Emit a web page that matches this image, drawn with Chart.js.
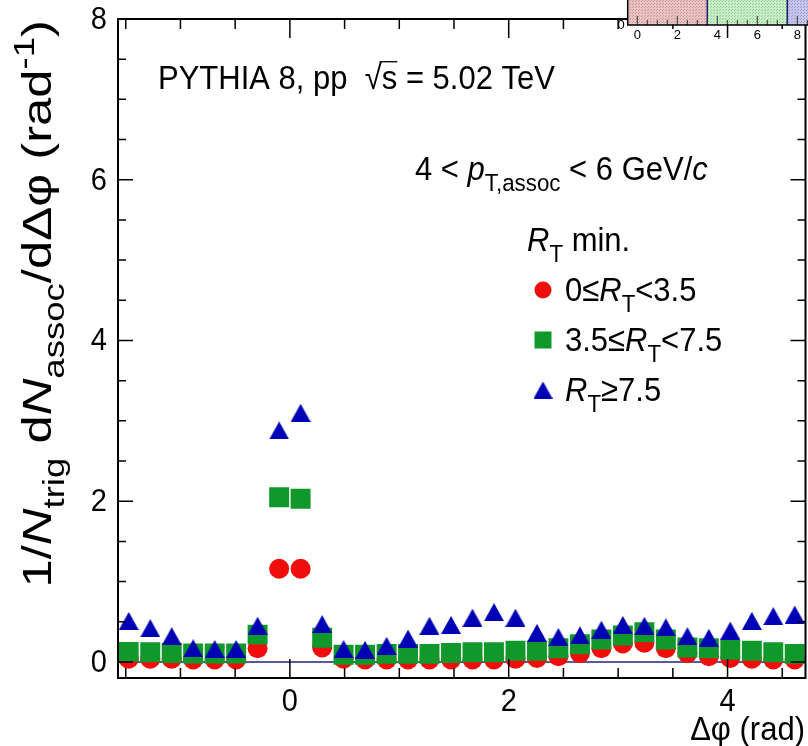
<!DOCTYPE html>
<html><head><meta charset="utf-8">
<script src="https://cdn.jsdelivr.net/npm/chart.js@4/dist/chart.umd.min.js"></script>
<style>
html,body{margin:0;padding:0;background:#fff;}
#wrap{position:relative;width:808px;height:746px;overflow:hidden;background:#fff;}
#main{position:absolute;left:0;top:0;}
#inset{position:absolute;left:600px;top:0;}
</style></head><body>
<div id="wrap"><canvas id="main" width="808" height="746"></canvas><canvas id="inset" width="208" height="44"></canvas></div>
<script>
// ---------- data ----------
const dphi = [-1.473,-1.276,-1.080,-0.884,-0.687,-0.491,-0.295,-0.098,0.098,0.295,0.491,0.687,0.884,1.080,1.276,1.473,
              1.669,1.865,2.062,2.258,2.454,2.651,2.847,3.043,3.240,3.436,3.633,3.829,4.025,4.222,4.418,4.614];
const rtLow  = [0.04,0.04,0.04,0.03,0.03,0.03,0.17,1.16,1.16,0.18,0.04,0.03,0.03,0.03,0.03,0.03,
                0.03,0.03,0.04,0.05,0.07,0.11,0.17,0.23,0.24,0.17,0.11,0.07,0.05,0.04,0.03,0.03];
const rtMid  = [0.125,0.12,0.11,0.105,0.105,0.105,0.34,2.05,2.03,0.30,0.09,0.09,0.10,0.10,0.10,0.11,
                0.12,0.12,0.14,0.14,0.17,0.22,0.28,0.33,0.37,0.28,0.18,0.17,0.15,0.14,0.12,0.10];
const rtHigh = [0.51,0.42,0.32,0.17,0.16,0.16,0.45,2.88,3.10,0.47,0.16,0.15,0.20,0.29,0.45,0.46,
                0.55,0.62,0.55,0.36,0.31,0.33,0.40,0.46,0.45,0.43,0.32,0.30,0.39,0.51,0.57,0.59];
const seriesLabels = ['0\u2264RT<3.5','3.5\u2264RT<7.5','RT\u22657.5'];
const xTickLabels = [0,2,4];
const yTickLabels = [0,2,4,6,8];
const insetRegionEdges = [-0.5,3.5,7.5,11.5];
const insetTickLabels = [0,2,4,6,8];

// ---------- style ----------
const FONT = '"Liberation Sans", Arial, Helvetica, sans-serif';
const RED = '#f20d0d', GREEN = '#11982a', BLUE = '#0000b4';
const TXT = 31, TICK = 29, YTITLE = 40, SY = 1.1, SYT = 1.27;

function triCanvas(w,h,color){
  const c=document.createElement('canvas'); c.width=w; c.height=h;
  const g=c.getContext('2d'); g.fillStyle=color; g.beginPath();
  g.moveTo(w/2,0); g.lineTo(w,h); g.lineTo(0,h); g.closePath(); g.fill(); return c;
}
const triBig = triCanvas(20,18,BLUE), triSmall = triCanvas(19,17,BLUE);

function setFont(ctx,r,size){
  const s=(r.sub||r.sup)?size*0.72:size;
  ctx.font=(r.i?'italic ':'')+s+'px '+FONT;
}
function drawRich(ctx,runs,x,y,size,align){
  let w=0;
  for(const r of runs){setFont(ctx,r,size); w+=ctx.measureText(r.t).width;}
  let cx = align==='right'? x-w : align==='center'? x-w/2 : x;
  ctx.textAlign='left'; ctx.textBaseline='alphabetic';
  for(const r of runs){
    setFont(ctx,r,size);
    const dy = r.sub? size*0.32 : r.sup? -size*0.42 : 0;
    ctx.fillText(r.t,cx,y+dy);
    const rw=ctx.measureText(r.t).width;
    if(r.over){
      ctx.save(); ctx.lineWidth=1.2; ctx.strokeStyle=ctx.fillStyle;
      ctx.beginPath(); ctx.moveTo(cx-2,y-size*0.80); ctx.lineTo(cx+rw,y-size*0.80); ctx.stroke(); ctx.restore();
    }
    cx+=rw;
  }
  return w;
}
function drawRichS(ctx,runs,x,y,size,align){
  ctx.save(); ctx.translate(x,y); ctx.scale(1,SY); drawRich(ctx,runs,0,0,size,align); ctx.restore();
}
function drawPlainS(ctx,txt,x,y,align,baseline){
  ctx.save(); ctx.translate(x,y); ctx.scale(1,SY); ctx.textAlign=align; ctx.textBaseline=baseline; ctx.fillText(txt,0,0); ctx.restore();
}

const runsTitle = [{t:'PYTHIA 8, pp  \u221A'},{t:'s',over:1},{t:' = 5.02 TeV'}];
const runsKin = [{t:'4 < '},{t:'p',i:1},{t:'T,assoc',sub:1},{t:' < 6 GeV/'},{t:'c',i:1}];
const runsRT = [{t:'R',i:1},{t:'T',sub:1},{t:' min.'}];
const runsLeg = [
  [{t:'0\u2264'},{t:'R',i:1},{t:'T',sub:1},{t:'<3.5'}],
  [{t:'3.5\u2264'},{t:'R',i:1},{t:'T',sub:1},{t:'<7.5'}],
  [{t:'R',i:1},{t:'T',sub:1},{t:'\u22657.5'}]
];
const runsY = [{t:'1/'},{t:'N',i:1},{t:'trig',sub:1},{t:' d'},{t:'N',i:1},{t:'assoc',sub:1},{t:'/d\u0394\u03C6 (rad'},{t:'-1',sup:1},{t:')'}];
const runsX = [{t:'\u0394\u03C6 (rad)'}];

const rootPlugin = {
  id:'rootStyle',
  beforeDatasetsDraw(chart){
    const {ctx,chartArea:a,scales:{y}}=chart;
    ctx.save(); ctx.strokeStyle='#23237a'; ctx.lineWidth=1.5;
    const y0=y.getPixelForValue(0);
    ctx.beginPath(); ctx.moveTo(a.left,y0); ctx.lineTo(a.right,y0); ctx.stroke(); ctx.restore();
  },
  afterDatasetsDraw(chart){
    const {ctx,chartArea:a,scales:{x,y}}=chart;
    ctx.save(); ctx.strokeStyle='#000'; ctx.lineWidth=2;
    ctx.strokeRect(a.left,a.top,a.right-a.left,a.bottom-a.top);
    ctx.lineWidth=1.5; ctx.beginPath();
    for(let k=0;k<=16;k++){
      const v=k*0.5, p=y.getPixelForValue(v), L=(k%4===0)?15:8;
      ctx.moveTo(a.left,p); ctx.lineTo(a.left+L,p);
      ctx.moveTo(a.right,p); ctx.lineTo(a.right-L,p);
    }
    for(let k=-3;k<=9;k++){
      const v=k*0.5, p=x.getPixelForValue(v), L=(k%4===0)?19:10;
      ctx.moveTo(p,a.bottom); ctx.lineTo(p,a.bottom-L);
      ctx.moveTo(p,a.top); ctx.lineTo(p,a.top+L);
    }
    ctx.stroke(); ctx.restore();
  },
  afterDraw(chart){
    const {ctx,scales:{x,y}}=chart;
    ctx.save(); ctx.fillStyle='#000';
    ctx.font=TICK+'px '+FONT;
    for(const v of yTickLabels) drawPlainS(ctx,String(v),107,y.getPixelForValue(v)+1,'right','middle');
    for(const v of xTickLabels) drawPlainS(ctx,String(v),x.getPixelForValue(v),711,'center','alphabetic');
    drawRichS(ctx,runsTitle,158,89,TXT,'left');
    drawRichS(ctx,runsKin,415,180,TXT,'left');
    drawRichS(ctx,runsRT,527,251,TXT,'left');
    const ly=[290,340,390];
    ctx.fillStyle=RED; ctx.beginPath(); ctx.arc(543,ly[0],8.5,0,Math.PI*2); ctx.fill();
    ctx.fillStyle=GREEN; ctx.fillRect(534.5,ly[1]-8.5,17,17);
    ctx.drawImage(triSmall,543-9.5,ly[2]-8.5);
    ctx.fillStyle='#000';
    for(let i=0;i<3;i++) drawRichS(ctx,runsLeg[i],565,ly[i]+11,TXT,'left');
    drawRichS(ctx,runsX,805,740,TXT,'right');
    ctx.save(); ctx.translate(51,20); ctx.rotate(-Math.PI/2); ctx.scale(SYT,1);
    drawRich(ctx,runsY,0,0,YTITLE,'right'); ctx.restore();
    ctx.restore();
  }
};

const pts = arr => dphi.map((v,i)=>({x:v,y:arr[i]}));
new Chart(document.getElementById('main'),{
  type:'scatter',
  data:{datasets:[
    {label:seriesLabels[0],data:pts(rtLow),pointStyle:'circle',pointRadius:10,pointHoverRadius:10,backgroundColor:RED,borderWidth:0,order:3},
    {label:seriesLabels[1],data:pts(rtMid),pointStyle:'rect',pointRadius:14.1,pointHoverRadius:14.1,backgroundColor:GREEN,borderWidth:0,order:2},
    {label:seriesLabels[2],data:pts(rtHigh),pointStyle:triBig,pointRadius:10,backgroundColor:BLUE,borderWidth:0,order:1}
  ]},
  options:{
    responsive:false,animation:false,devicePixelRatio:1,
    layout:{autoPadding:false,padding:{left:118,right:2.5,top:19,bottom:68}},
    plugins:{legend:{display:false},tooltip:{enabled:false}},
    events:[],
    scales:{
      x:{type:'linear',display:false,min:-Math.PI/2,max:1.5*Math.PI},
      y:{type:'linear',display:false,min:-0.2,max:8}
    }
  },
  plugins:[rootPlugin]
});

// ---------- inset (cropped R_T distribution) ----------
function dotPattern(base,dot){
  const c=document.createElement('canvas'); c.width=3; c.height=3;
  const g=c.getContext('2d'); g.fillStyle=base; g.fillRect(0,0,3,3);
  g.fillStyle=dot; g.fillRect(0,0,1,1); g.fillRect(2,1,1,1);
  return g.createPattern(c,'repeat');
}
const insetFills=[dotPattern('#ebc2c2','#c99a9a'),dotPattern('#c6efc6','#9ccc9c'),dotPattern('#c6c6ef','#9c9ccc')];
const insetPlugin={
  id:'insetAxes',
  afterDatasetsDraw(chart){
    const {ctx,chartArea:a,scales:{x}}=chart;
    ctx.save();
    ctx.strokeStyle='#1c1c70'; ctx.lineWidth=1.5; ctx.beginPath();
    for(const e of [insetRegionEdges[1],insetRegionEdges[2]]){const p=x.getPixelForValue(e); ctx.moveTo(p,a.top); ctx.lineTo(p,a.bottom);}
    ctx.stroke();
    ctx.strokeStyle='#333'; ctx.lineWidth=1; ctx.beginPath();
    for(let k=0;k<=17;k++){const v=k*0.5,p=x.getPixelForValue(v),L=(k%4===0)?9:5; ctx.moveTo(p,a.bottom); ctx.lineTo(p,a.bottom-L);}
    ctx.stroke();
    ctx.strokeStyle='#000'; ctx.lineWidth=1.5; ctx.beginPath();
    ctx.moveTo(a.left,a.top); ctx.lineTo(a.left,a.bottom); ctx.lineTo(a.right,a.bottom); ctx.stroke();
    ctx.fillStyle='#000'; ctx.font='13px '+FONT; ctx.textAlign='center'; ctx.textBaseline='middle';
    for(const v of insetTickLabels) ctx.fillText(String(v),x.getPixelForValue(v),35);
    ctx.textAlign='right'; ctx.fillText('0',a.left-3,a.bottom);
    ctx.restore();
  }
};
new Chart(document.getElementById('inset'),{
  type:'line',
  data:{datasets:[0,1,2].map(i=>({
    data:[{x:insetRegionEdges[i],y:2},{x:insetRegionEdges[i+1],y:2}],
    fill:'origin',backgroundColor:insetFills[i],borderWidth:0,pointRadius:0
  }))},
  options:{
    responsive:false,animation:false,devicePixelRatio:1,events:[],
    layout:{autoPadding:false,padding:{left:27.7,right:0,top:0,bottom:19}},
    plugins:{legend:{display:false},tooltip:{enabled:false}},
    scales:{
      x:{type:'linear',display:false,min:-0.48,max:8.535},
      y:{type:'linear',display:false,min:0,max:1}
    }
  },
  plugins:[insetPlugin]
});
</script>
</body></html>
